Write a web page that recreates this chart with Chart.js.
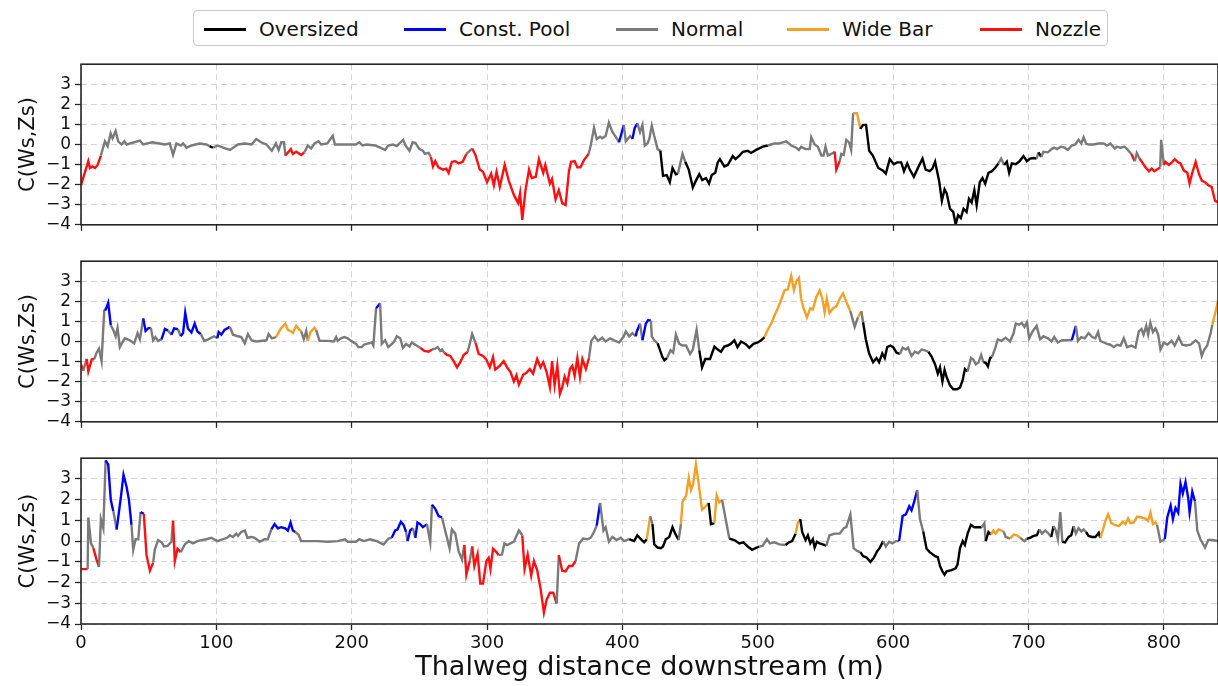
<!DOCTYPE html>
<html>
<head>
<meta charset="utf-8">
<script src="https://cdn.jsdelivr.net/npm/chart.js@4.4.1/dist/chart.umd.min.js"></script>
<style>
  body { margin: 0; background: #fff; width: 1218px; height: 686px; overflow: hidden; position: relative; font-family: "DejaVu Sans", sans-serif; }
  canvas { position: absolute; left: 0; }
  #legend { position: absolute; left: 193px; top: 10px; width: 913px; height: 34px; border: 1px solid #cccccc; border-radius: 4px; }
  .swatch { position: absolute; top: 17px; width: 42px; height: 2.5px; }
  .label { position: absolute; top: 0; line-height: 36px; font-size: 20px; color: #111; white-space: nowrap; }
</style>
</head>
<body>
<div id="legend"></div>
<canvas id="p1" width="1218" height="189" style="top:50px"></canvas>
<canvas id="p2" width="1218" height="189" style="top:247px"></canvas>
<canvas id="p3" width="1218" height="242" style="top:444px"></canvas>
<script>
// Channel classes
const categories = ["Oversized", "Const. Pool", "Normal", "Wide Bar", "Nozzle"];
const catCodes = { O: "Oversized", P: "Const. Pool", N: "Normal", W: "Wide Bar", Z: "Nozzle" };
const xTicks = [0, 100, 200, 300, 400, 500, 600, 700, 800];
const yTicks = [-4, -3, -2, -1, 0, 1, 2, 3];

// Panel 1
const dist1 = [0, 5.4, 6.6, 8.4, 10.3, 12.3, 14.7, 17.7, 19.7, 21.9, 23.3, 25.6, 27.5, 30, 32, 33.7, 43.5, 46, 52.6, 62,
  65.6, 68, 70.5, 73.7, 75.4, 78, 81.6, 87.7, 92.6, 95, 97.5, 101, 105, 110, 116, 121, 126, 129.5, 133, 137,
  141, 144, 146, 148, 150, 151, 155, 156.5, 159, 162.7, 165, 167.6, 170, 172.5, 175.5, 177.4, 182, 186, 187.6, 203,
  205.6, 208, 211, 217.3, 221, 224.7, 227, 230.4, 233.3, 238, 240, 242.7, 245, 247, 250, 252.6, 254, 256.8, 258.5, 260,
  261.7, 264, 267.4, 269.9, 271.6, 274, 276.5, 279, 282, 284.7, 289, 291.4, 294.6, 297, 300, 303, 305, 307, 309.4, 313,
  316, 320, 323, 324.4, 326, 328.4, 331, 333, 336, 338.3, 341.5, 343, 346.4, 348, 350.6, 353, 355.5, 358, 360.5, 362,
  364.7, 366.7, 369, 371.6, 375, 376.5, 379, 381, 383.5, 385, 387.6, 390, 392.6, 395.8, 397.5, 401, 402.5, 405.7, 407.4, 409,
  411, 413, 414.8, 416.5, 418.5, 420, 421.7, 423.5, 426, 428, 430, 432.7, 435, 437, 439.5, 441, 444.4, 446.4, 449, 452,
  454.3, 456.8, 459, 461.7, 464, 466, 468.6, 470.4, 472, 475.3, 477.8, 481.5, 483.5, 486.4, 489, 492.6, 495, 498.8, 503.7, 507.4,
  512.3, 516, 518.5, 521, 524.7, 528.4, 530.4, 532, 535.3, 538.3, 539.5, 542, 544.4, 547, 548.6, 550, 551.8, 554.3, 556.8, 558,
  560.5, 561.7, 563.5, 565.4, 567.4, 569, 570.4, 573.3, 575.8, 577.8, 580, 582.3, 585, 589, 592.6, 594.6, 597.5, 600.5, 603, 606,
  608, 610.4, 612.3, 615.3, 618.5, 621.7, 624, 627, 629, 631, 634, 636, 638, 639.5, 642, 644.4, 646.2, 648, 650, 652,
  654.3, 656, 658, 660, 661.7, 664, 666, 668, 670.4, 673, 675.3, 677.8, 679.8, 682, 684, 685.7, 687.7, 690.6, 693, 696.3,
  698.8, 701.2, 703.7, 706, 707.4, 709.4, 711, 714.3, 717, 719, 721, 724, 726.7, 729, 732, 734.6, 737, 739, 740.7, 742.5,
  744.4, 748, 751.8, 755.5, 758, 760.5, 763.7, 765.4, 768, 771, 772.8, 776, 778.5, 780, 782, 784, 786.4, 789, 791, 793,
  796, 797.3, 798, 800, 801, 803.7, 806, 808, 810.6, 812.3, 814.8, 817.3, 819, 821, 823.5, 826, 828, 830.4, 832.8, 835.3,
  837.8, 840];
const cws1 = [-2.03, -0.83, -1.17, -1.09, -1.17, -1.02, -0.55, 0.16, -0.08, 0.55, 0.31, 0.67, 0.16, 0, 0.16, 0, 0.19, 0, 0.11, 0,
  0.05, -0.52, 0.05, -0.05, 0.05, -0.16, -0.05, 0.05, 0, -0.08, -0.16, -0.05, -0.16, -0.27, 0, 0.05, 0, 0.27, 0.11, 0,
  -0.31, 0.05, -0.27, 0.11, 0.11, -0.55, -0.23, -0.47, -0.36, -0.52, -0.39, -0.05, -0.2, 0.05, 0.16, 0, 0.05, 0.44, 0, 0,
  0.11, -0.05, 0, -0.05, -0.16, -0.27, -0.05, 0, -0.08, 0.23, -0.08, -0.31, 0.11, 0.08, -0.23, -0.31, -0.47, -0.42, -0.62, -1.09,
  -0.83, -1.14, -1.25, -1.2, -1.41, -0.86, -0.83, -0.94, -0.86, -0.47, -0.2, -0.52, -1.25, -1.36, -1.88, -1.45, -2.03, -1.36, -2.11, -1.02,
  -1.8, -2.55, -2.92, -2.42, -3.75, -2.27, -1.25, -1.67, -1.61, -0.73, -1.41, -1.02, -1.95, -1.72, -2.73, -2.27, -2.92, -3.02, -1.33, -0.86,
  -0.83, -1.14, -1.14, -0.78, -0.47, -0.08, 0.83, 0.27, 0.39, 0.31, 0.42, 1.09, 0.62, 0.31, 0.11, 0.97, 0.16, 0.42, 0.27, 0.81,
  1.06, 0.62, 0.98, -0.05, 0.05, 0.31, 0.94, 0.42, -0.23, -0.31, -1.56, -1.52, -1.88, -1.17, -1.48, -1.45, -0.47, -0.86, -1.25, -2.14,
  -1.8, -1.48, -1.77, -1.67, -1.95, -1.52, -1.41, -0.89, -0.73, -1.09, -1.02, -0.58, -0.73, -0.55, -0.36, -0.31, -0.42, -0.27, -0.11, -0.05,
  0.05, 0.05, 0.11, 0.16, -0.05, -0.16, -0.27, -0.11, -0.23, -0.23, 0.36, 0, -0.11, -0.55, -0.55, -0.11, -0.55, -0.47, -0.36, -1.25,
  -0.83, -0.47, -0.52, 0.23, 0.11, -0.27, 1.56, 1.56, 0.78, 0.98, 0.98, -0.31, -0.55, -1.17, -1.3, -1.45, -0.73, -0.98, -0.89, -0.89,
  -1.33, -0.94, -1.25, -1.61, -1.14, -0.7, -1.25, -1.33, -1.2, -0.86, -1.83, -2.8, -2.23, -2.42, -3.2, -3.36, -3.98, -3.52, -3.67, -3.2,
  -3.36, -2.7, -2.89, -2.27, -3.02, -1.88, -1.67, -1.95, -1.41, -1.33, -1.17, -0.94, -0.7, -1.02, -0.86, -1.41, -0.94, -0.98, -0.86, -0.58,
  -0.83, -0.7, -0.67, -0.7, -0.39, -0.62, -0.36, -0.39, -0.23, -0.16, -0.23, -0.11, -0.16, -0.27, -0.05, 0, 0.23, 0.05, 0.36, 0.05,
  0, 0, 0.05, 0.05, -0.05, 0.05, -0.2, -0.11, -0.16, -0.11, -0.23, -0.47, -0.83, -0.42, -0.7, -0.89, -1.14, -1.33, -1.2, -1.33,
  -1.2, -1.14, 0.23, -1.02, -0.86, -1.02, -0.89, -0.73, -0.89, -0.94, -1.3, -1.41, -1.95, -1.41, -0.86, -1.48, -1.8, -1.88, -2.03, -2.11,
  -2.8, -2.89];
const runStart1 = [0, 14.7, 95, 97.5, 151, 165, 258.5, 284.7, 289, 375, 397.5, 401, 407.4, 411, 428, 441, 446.4, 507.4,
  556.8, 560.5, 570.4, 575.8, 677.8, 682, 706, 707.4, 709.4, 776, 778.5, 782, 797.3, 800];
const runCat1 = ["Z", "N", "O", "N", "Z", "N", "Z", "N", "Z", "N", "P", "N", "P", "N", "O", "N", "O", "N",
  "Z", "N", "W", "O", "N", "O", "N", "O", "N", "Z", "N", "Z", "N", "Z"];

// Panel 2
const dist2 = [0, 1.7, 4.2, 5.4, 7.9, 9.8, 11.5, 13.3, 15.2, 17.2, 18.2, 20.1, 22, 23.8, 25.6, 27, 28.7, 30.5, 32.4, 36,
  39.3, 41.8, 43.5, 46, 47.7, 49.6, 51.6, 53.3, 55, 57, 59.5, 62, 64.4, 66.8, 68.8, 71.7, 73.7, 75.4, 77, 79,
  81.6, 84, 86, 88.5, 91, 94, 98.3, 100.7, 101.7, 103.7, 106, 110, 112.3, 116, 118.4, 121, 123.3, 126, 129.5, 137,
  138.6, 141, 144.2, 147.4, 150.9, 152.8, 155.3, 156.5, 159, 161.4, 162.7, 164.6, 166.4, 167.6, 169.5, 172.5, 173.7, 176.2, 182.3, 186.7,
  188.5, 189.7, 192, 194.6, 197, 199.5, 203.2, 205, 207.4, 209, 211, 214.8, 216, 218, 221, 222.2, 224.7, 227, 230.9, 233.3,
  235.8, 237.8, 240.2, 242.7, 244.4, 247, 250.6, 253.6, 256.8, 259.3, 261.7, 263.5, 265.4, 266.7, 268.4, 270.4, 272.8, 275.3, 277.8, 280.2,
  282.7, 285.7, 289, 291.4, 293.8, 297, 299.5, 302, 304.4, 306, 309.4, 312.3, 314.8, 317.3, 319.8, 321.7, 323.5, 326.7, 329.1, 331.6,
  334, 337, 339.5, 341.5, 344, 346.4, 348, 349.9, 351.9, 353.8, 355.5, 357.3, 359.3, 361.2, 363, 364.7, 366.7, 368.6, 370.4, 373,
  375.3, 377, 379.5, 382, 385, 387.6, 390.9, 393.8, 397.5, 400.7, 402.5, 405, 407.4, 409.9, 410.6, 413, 414.8, 417.3, 419, 421,
  421.7, 423.5, 426, 427, 429.4, 431, 433, 435.5, 437.5, 439.5, 442, 444.4, 447, 450, 452, 454.8, 456.8, 458.8, 461.2, 464.7,
  468, 470.4, 472.8, 475.3, 477.8, 480, 482.7, 485, 487.6, 490.9, 493.8, 496.8, 500, 502.5, 505, 506.7, 509.9, 512.3, 514.8, 517.3,
  519.8, 522.2, 524.7, 526.7, 528.4, 530.4, 532, 533.8, 536.3, 538.8, 540.7, 543.2, 545.7, 547.7, 549.4, 551, 553, 555.6, 558, 560.5,
  563, 565.4, 568.4, 571.6, 574, 576.5, 577.8, 579.8, 582.2, 585.2, 587.7, 589.6, 592, 593.8, 595.6, 598, 600, 602.5, 605, 607,
  609.4, 611, 613.6, 616, 618.5, 621, 623.5, 626, 628.4, 631, 633, 634.6, 636.4, 638, 639.5, 642, 644.4, 647, 649.4, 651.4,
  653, 655, 657.5, 659.3, 661, 663, 665, 666.7, 668.4, 670, 671.6, 673, 675.3, 677.3, 680, 683, 686.4, 689, 690.6, 693,
  695, 697, 698.8, 700.5, 703, 706, 708.6, 711, 714.3, 717, 719, 721.7, 724.7, 728.4, 732, 735, 736.5, 739, 741.5, 744.4,
  747, 749.4, 751.4, 753, 755.6, 758, 760.5, 763, 765.4, 768, 770.4, 772.8, 776, 779, 781.5, 783.5, 785, 787, 788.4, 790,
  791.9, 793.8, 795.8, 797.5, 800, 802.5, 805.7, 808, 811, 813.6, 816.5, 819.8, 823.5, 826, 828, 829.6, 832, 834.6, 835.8, 838.3,
  840.7];
const cws2 = [-1.14, -1.45, -0.87, -1.49, -0.9, -0.87, -0.56, -0.36, -0.98, 1.59, 1.59, 1.93, 0.81, 0.58, 0.26, 0.68, -0.28, -0.05, 0.16, 0.06,
  -0.09, 0.42, 0.11, 1.15, 0.53, 0.65, 0.68, 0.06, 0.22, 0.03, 0.11, 0.62, 0.54, 0.34, 0.65, 0.61, 0.26, 0.42, 1.43, 0.65,
  0.45, 0.89, 0.5, 0.37, 0.03, 0.11, 0.26, 0.16, 0.47, 0.34, 0.58, 0.73, 0.34, 0.26, 0.22, -0.09, 0.37, 0.06, 0, 0.06,
  0.37, 0.16, 0.22, 0.62, 0.89, 0.58, 0.5, 0.42, 0.78, 0.58, 0.5, 0.11, 0.53, 0.03, 0.47, 0.68, 0.58, 0.03, 0.03, 0,
  0.22, 0.03, 0.16, 0.22, 0.16, 0.03, -0.12, -0.28, -0.28, -0.16, -0.12, -0.05, -0.2, 1.66, 1.9, -0.12, 0.06, -0.28, -0.05, 0.26,
  0.16, -0.31, -0.12, -0.25, -0.05, -0.16, -0.31, -0.47, -0.51, -0.4, -0.36, -0.28, -0.47, -0.4, -0.56, -0.67, -0.72, -0.98, -1.29, -1.03,
  -0.67, -0.51, 0.37, -0.05, -0.62, -0.72, -0.9, -1.29, -0.78, -1.4, -1.21, -0.98, -1.29, -1.52, -1.99, -1.68, -2.15, -1.65, -1.56, -1.37,
  -1.6, -0.87, -1.29, -1.03, -1.52, -2.27, -0.98, -2.18, -1.21, -2.61, -2.29, -1.75, -2.1, -1.37, -1.21, -1.71, -0.82, -1.75, -0.87, -1.37,
  -0.82, 0.03, 0.26, 0.03, 0.19, 0, 0.16, 0.06, -0.05, 0.22, 0.5, 0.26, 0.42, 0.26, 0.5, 0.89, 0.06, 0.89, 1.07, 1.04,
  0.26, 0.06, -0.09, -0.28, -0.75, -0.93, -0.82, -0.44, -0.56, 0.34, -0.12, -0.2, -0.2, -0.62, -0.4, 0.58, -0.44, -1.29, -0.87, -0.87,
  -0.25, -0.4, -0.51, -0.25, -0.2, -0.12, 0.06, -0.28, 0, -0.12, -0.31, -0.12, -0.05, 0.06, 0.22, 0.5, 0.89, 1.28, 1.66, 2.08,
  2.55, 2.6, 3.27, 2.55, 2.99, 3.17, 2.13, 1.66, 1.2, 1.66, 1.59, 2.21, 2.55, 2.13, 1.46, 2.13, 1.43, 1.66, 1.74, 2.13,
  2.4, 1.98, 1.51, 0.73, 1.2, 1.51, 0.96, 0.11, -0.59, -1.03, -0.82, -1.03, -0.59, -0.82, -0.28, -0.2, -0.28, -0.56, -0.62, -0.31,
  -0.4, -0.31, -0.72, -0.51, -0.59, -0.4, -0.44, -0.51, -0.75, -1.14, -1.6, -1.29, -1.99, -1.41, -1.77, -2.18, -2.38, -2.38, -2.3, -1.91,
  -1.37, -1.49, -0.82, -0.9, -1.14, -1.06, -0.67, -1.03, -1.06, -1.24, -0.82, -0.78, -0.36, 0.11, 0.03, 0.19, 0, 0.42, 0.89, 0.84,
  0.93, 0.73, 0.96, 0.16, 0.5, 0.78, 0.11, 0.26, 0.16, 0, 0.22, -0.05, 0.06, 0.06, 0.06, 0.78, 0.03, 0.22, 0.16, 0.42,
  0.22, 0.16, 0.47, 0.03, -0.05, -0.12, -0.16, -0.28, -0.16, -0.2, 0.16, -0.28, -0.2, -0.31, 0.5, 0.62, 0.34, 0.78, 0.34, 0.93,
  0.47, 0.65, 0.34, -0.4, -0.05, -0.16, 0.03, -0.2, 0.22, -0.16, -0.2, -0.16, 0.06, -0.09, -0.72, -0.44, -0.2, 0.42, 0.84, 1.51,
  2.21];
const runStart2 = [0, 1.7, 4.2, 9.8, 17.2, 22, 46, 51.6, 59.5, 64.4, 66.8, 71.7, 73.7, 88.5, 100.7, 110, 144.2, 162.7,
  167.6, 173.7, 218, 221, 250.6, 259.3, 268.4, 285.7, 291.4, 375.3, 409.9, 413, 414.8, 421, 426, 433, 456.8, 505,
  568.4, 574, 576.5, 577.8, 605, 626, 655, 666.7, 673, 732, 735, 835.8];
const runCat2 = ["Z", "N", "Z", "N", "P", "N", "P", "N", "P", "N", "P", "N", "P", "N", "P", "N", "W", "N",
  "W", "N", "P", "N", "Z", "N", "Z", "N", "Z", "N", "P", "N", "P", "N", "O", "N", "O", "W",
  "N", "W", "N", "O", "N", "O", "N", "O", "N", "P", "N", "W"];

// Panel 3
const dist3 = [0, 4.9, 5.4, 7.4, 9.1, 11.5, 13.3, 14.7, 16.5, 18.2, 20.1, 22, 23.8, 24.6, 26.3, 27.5, 29.5, 31.4, 33.7, 35.4,
  37.3, 38.6, 40.3, 42.3, 44, 46.4, 48.4, 50.9, 53.3, 54.5, 57, 59.5, 61.4, 63.9, 66.8, 68, 69.3, 71.3, 73.7, 76.7,
  79.6, 82.8, 86, 89, 92.6, 96.3, 100.7, 105, 108, 110, 112.3, 114.7, 116, 118.4, 121, 123, 126, 128.3, 132, 135.6,
  138, 140.6, 143, 145.4, 147.9, 150.9, 152.8, 154.8, 156.5, 158.3, 160.7, 162.7, 175, 182.3, 189.7, 195, 197, 203.2, 205.6, 209,
  213.6, 218.5, 223.5, 227.2, 229.6, 232.1, 233.8, 236.3, 238.3, 240.2, 241.2, 243.2, 245.2, 247, 248.6, 250.6, 252.6, 255.6, 258, 259.3,
  261.7, 264.2, 266.7, 269, 271, 272.3, 274, 276.5, 279, 281.5, 283.2, 284.7, 287.2, 289, 290.6, 293, 295, 297, 299.5, 301.2,
  302.5, 304.4, 306.9, 308.6, 311, 312.8, 314.8, 317.3, 319.8, 323.5, 326, 327.7, 330, 332.6, 334.6, 337, 339.5, 342, 344, 346.4,
  348.9, 351.4, 353, 355.5, 358, 360.5, 363, 365.4, 368, 371, 374, 376.5, 379, 381, 383.5, 386, 387.6, 390, 392.6, 395.8,
  398.8, 401.2, 405, 408.6, 411, 413.6, 416, 418, 420.5, 422.2, 423.5, 426, 428.4, 430, 432, 434.6, 437, 439, 441.5, 443.2,
  444.4, 447, 449, 450.6, 452.3, 454.3, 456.3, 458.8, 461.2, 463.7, 465.4, 467.9, 469.6, 471.6, 473.6, 476.5, 479, 482.7, 486.4, 489.4,
  492.6, 495.8, 498.3, 501.2, 503.7, 506.7, 509, 512.3, 516, 520.5, 523, 525.4, 527.9, 529.6, 531.4, 532.8, 535.3, 537, 538.8, 540.7,
  542, 543.7, 545.7, 548, 550.6, 553, 556.8, 560.5, 563.5, 565.4, 568.4, 570.8, 573.3, 575.8, 577.8, 580.2, 583.2, 585.7, 588.1, 590,
  592.6, 594.6, 597, 599.5, 602, 604.4, 607, 609.4, 611.9, 613.6, 615.3, 617.8, 619.8, 622.2, 624.7, 627, 631, 633, 634.6, 636.4,
  638, 639.5, 643.2, 646.2, 647.6, 649.4, 651.4, 653, 655, 657.5, 660, 663, 665.4, 667.4, 668.4, 670.4, 672.3, 674, 675.8, 677.8,
  681.5, 683.2, 686.4, 689, 691.4, 693.8, 697, 698.8, 701.2, 703.7, 706.2, 708, 709.9, 712.3, 714.3, 716.8, 718.5, 720.2, 721.7, 723.5,
  725, 727, 729.6, 731.6, 733.3, 735, 737, 739, 740.7, 742.5, 744.4, 747, 749.4, 751.9, 753, 754.8, 756.8, 758.8, 761.2, 763.7,
  766.7, 769.6, 771.6, 773.6, 775.3, 777.8, 780.2, 783.5, 786.4, 788.4, 790.1, 791.9, 793.8, 795, 797.5, 800.7, 802.5, 805, 806.7, 808.6,
  810.6, 812.3, 814, 816, 818, 819, 821, 823, 824.7, 827, 830.4, 832.8, 835.8, 840.7];
const cws3 = [-1.35, -1.35, 1.14, -0.11, -0.34, -0.89, -1.24, 1.06, 0.62, 3.9, 3.7, 1.99, 1.45, 1.21, 0.56, 1.14, 2.15, 3.2, 2.61, 1.99,
  0.78, -0.42, 0.09, 0.09, 1.4, 1.32, -0.68, -1.43, -1.04, -0.42, 0.05, -0.06, -0.26, -0.23, -0.03, 0.98, -0.96, -0.37, -0.53, -0.16,
  0, -0.11, 0, 0.05, 0.09, 0.16, 0, 0.09, 0.16, 0.28, 0.2, 0.36, 0.25, 0.44, 0.51, 0.16, 0.2, 0.16, -0.03, 0.09,
  0.09, 0.56, 0.82, 0.62, 0.67, 0.62, 0.51, 0.9, 0.51, 0.44, 0.31, 0, 0, -0.03, 0, 0.09, -0.03, -0.03, 0.09, 0,
  0.09, 0, -0.16, 0.12, 0.16, 0.51, 0.56, 0.93, 0.78, 0.44, 0, 0.51, 0.62, 0.16, 0.9, 0.82, 0.67, 0.82, -0.06, 1.76,
  1.56, 1.21, 1.14, 0.51, 0, -0.34, 0.56, 0.36, -0.5, -0.89, -0.19, -1.62, -0.96, -0.26, -1.2, -0.62, -2.05, -2.05, -0.96, -0.81,
  -1.35, -0.37, -0.53, -0.68, -0.65, -0.11, -0.19, -0.11, -0.03, 0.51, 0.28, -1.35, -0.65, -1.66, -0.96, -1.4, -2.29, -3.45, -2.83, -2.49,
  -2.49, -3.02, -0.68, -1.43, -1.46, -1.2, -1.2, -0.96, -0.11, 0.12, 0.09, 0.16, 0.44, 0.75, 1.84, 0.51, 0.67, -0.03, 0.2, 0.05,
  0.16, 0, 0.09, 0, 0.28, 0.09, -0.06, 0.09, 1.2, 0.82, -0.16, -0.31, -0.34, -0.26, 0.09, 0.2, 0.67, 0.36, 0.05, 0.82,
  1.91, 2.18, 3.05, 2.46, 2.77, 3.7, 2.77, 1.52, 1.65, 1.84, 0.82, 0.87, 2.22, 1.87, 1.99, 0.98, 0.12, 0.05, -0.11, -0.06,
  -0.26, -0.42, -0.34, -0.26, -0.22, 0.09, -0.11, -0.06, -0.16, -0.19, -0.06, 0, 0.36, 0.9, 1.06, 0.44, 0.05, 0.28, -0.11, 0.09,
  -0.31, -0.03, -0.11, -0.16, -0.22, 0.28, 0.36, 0.36, 0.62, 0.67, 1.29, -0.34, -0.47, -0.53, -0.73, -0.78, -1.0, -0.81, -0.5, -0.34,
  0, -0.26, -0.03, -0.11, 0, 0, 1.21, 1.29, 1.68, 1.49, 1.84, 2.46, 1.06, 0.47, -0.37, -0.53, -0.73, -0.78, -1.2, -1.46,
  -1.62, -1.46, -1.4, -1.31, -1.12, -0.34, 0, -0.19, 0.36, 0.78, 0.67, 0.67, 0.67, 0.86, 0, 0.44, 0.31, 0.51, 0.36, 0.56,
  0.47, 0.2, 0.12, 0.31, 0.28, 0.16, 0, 0.12, 0.16, 0.25, 0.28, 0.56, 0.36, 0.51, 0.4, 0.2, 0.72, 0.51, 0.09, 1.4,
  -0.03, -0.06, 0.2, 0.28, 0.72, 0.36, 0.62, 0.47, 0.56, 0.44, 0.25, 0.2, 0.2, 0.4, 0.16, 0.51, 0.98, 1.29, 0.87, 0.78,
  0.72, 0.93, 0.82, 1.09, 0.87, 0.9, 1.18, 1.14, 1.09, 0.98, 1.37, 0.82, 0.9, 0.78, -0.03, 0.09, 1.14, 1.71, 1.06, 1.6,
  1.37, 2.77, 2.3, 2.85, 2.07, 1.4, 2.38, 1.91, 0.51, 0.09, -0.31, 0.05, 0.05, 0];
const runStart3 = [0, 4.9, 9.1, 13.3, 18.2, 23.8, 26.3, 37.3, 44, 46.4, 53.3, 68, 73.7, 140.6, 158.3, 229.6, 240.2, 241.2,
  245.2, 247, 255.6, 259.3, 266.7, 283.2, 287.2, 289, 308.6, 326, 351.4, 353, 365.4, 381, 383.5, 405, 418, 420.5,
  422.2, 441.5, 443.2, 463.7, 467.9, 473.6, 479, 501.2, 520.5, 527.9, 531.4, 550.6, 575.8, 592.6, 604.4, 617.8, 622.2, 665.4,
  668.4, 672.3, 681.5, 686.4, 693.8, 698.8, 708, 716.8, 718.5, 725, 733.3, 742.5, 753, 795, 800.7, 823];
const runCat3 = ["Z", "N", "Z", "N", "P", "N", "P", "N", "P", "Z", "N", "Z", "N", "P", "N", "P", "N", "P",
  "N", "P", "N", "P", "N", "Z", "N", "Z", "N", "Z", "N", "Z", "N", "P", "N", "O", "W", "N",
  "O", "N", "W", "O", "W", "N", "O", "N", "O", "W", "O", "N", "O", "N", "P", "N", "O", "N",
  "O", "W", "N", "W", "N", "O", "N", "O", "N", "O", "N", "O", "W", "N", "P", "N"];

// Colours
const catColor = {
  "Oversized": "#000000",
  "Const. Pool": "#0000ff",
  "Normal": "#7a7a7a",
  "Wide Bar": "#f5a025",
  "Nozzle": "#ff1010"
};
const legendX = [258, 458, 670, 841, 1034];

// Legend
const legendBox = document.getElementById("legend");
categories.forEach((name, i) => {
  const sw = document.createElement("div");
  sw.className = "swatch";
  sw.style.left = (legendX[i] - 193 - 55) + "px";
  sw.style.background = catColor[name];
  legendBox.appendChild(sw);
  const lb = document.createElement("div");
  lb.className = "label";
  lb.style.left = (legendX[i] - 193) + "px";
  lb.textContent = name;
  legendBox.appendChild(lb);
});

const frame = {
  id: "frame",
  afterDatasetsDraw(chart) {
    const a = chart.chartArea, ctx = chart.ctx;
    ctx.save();
    ctx.strokeStyle = "#262626";
    ctx.lineWidth = 1.6;
    ctx.strokeRect(a.left, a.top, a.right - a.left, a.bottom - a.top);
    ctx.restore();
  }
};

function makePanel(id, dist, vals, runStart, runCat, bottom) {
  const pts = dist.map((d, i) => ({ x: d, y: vals[i] }));
  const catAt = x => {
    let c = runCat[0];
    for (let k = 0; k < runStart.length; k++) if (runStart[k] <= x + 1e-6) c = runCat[k];
    return catCodes[c];
  };
  new Chart(document.getElementById(id), {
    type: "line",
    data: {
      datasets: [{
        data: pts,
        borderWidth: 2.4,
        pointRadius: 0,
        tension: 0,
        borderColor: catColor["Normal"],
        segment: { borderColor: ctx => catColor[catAt(ctx.p0.parsed.x)] }
      }]
    },
    options: {
      responsive: false,
      animation: false,
      layout: { padding: { top: 8, right: 0, left: 0, bottom: 0 } },
      plugins: { legend: { display: false }, tooltip: { enabled: false } },
      scales: {
        x: {
          type: "linear",
          min: 0,
          max: 840,
          afterBuildTicks: s => { s.ticks = xTicks.map(v => ({ value: v })); },
          afterFit: s => { s.height = bottom ? 62 : 10; },
          grid: { color: "#d4d4d4", lineWidth: 1, tickColor: "#262626", tickLength: 6, tickWidth: 1.3 },
          border: { display: false, dash: [6, 4] },
          ticks: { display: bottom, color: "#111", padding: 3, maxRotation: 0, font: { family: "DejaVu Sans", size: 18 } },
          title: {
            display: bottom,
            text: "Thalweg distance downstream (m)",
            color: "#111",
            padding: { top: 0, bottom: 2 },
            font: { family: "DejaVu Sans", size: 27 }
          }
        },
        y: {
          min: -4,
          max: 4,
          afterBuildTicks: s => { s.ticks = yTicks.map(v => ({ value: v })); },
          afterFit: s => { s.width = 81; },
          grid: { color: "#d4d4d4", lineWidth: 1, tickColor: "#262626", tickLength: 6, tickWidth: 1.3 },
          border: { display: false, dash: [6, 4] },
          ticks: {
            color: "#111",
            padding: 4,
            font: { family: "DejaVu Sans", size: 17 },
            callback: v => (v < 0 ? "\u2212" + Math.abs(v) : String(v))
          },
          title: {
            display: true,
            text: "C(Ws,Zs)",
            color: "#111",
            padding: { top: 16, bottom: 0 },
            font: { family: "DejaVu Sans", size: 21 }
          }
        }
      }
    },
    plugins: [frame]
  });
}

makePanel("p1", dist1, cws1, runStart1, runCat1, false);
makePanel("p2", dist2, cws2, runStart2, runCat2, false);
makePanel("p3", dist3, cws3, runStart3, runCat3, true);
</script>
</body>
</html>
